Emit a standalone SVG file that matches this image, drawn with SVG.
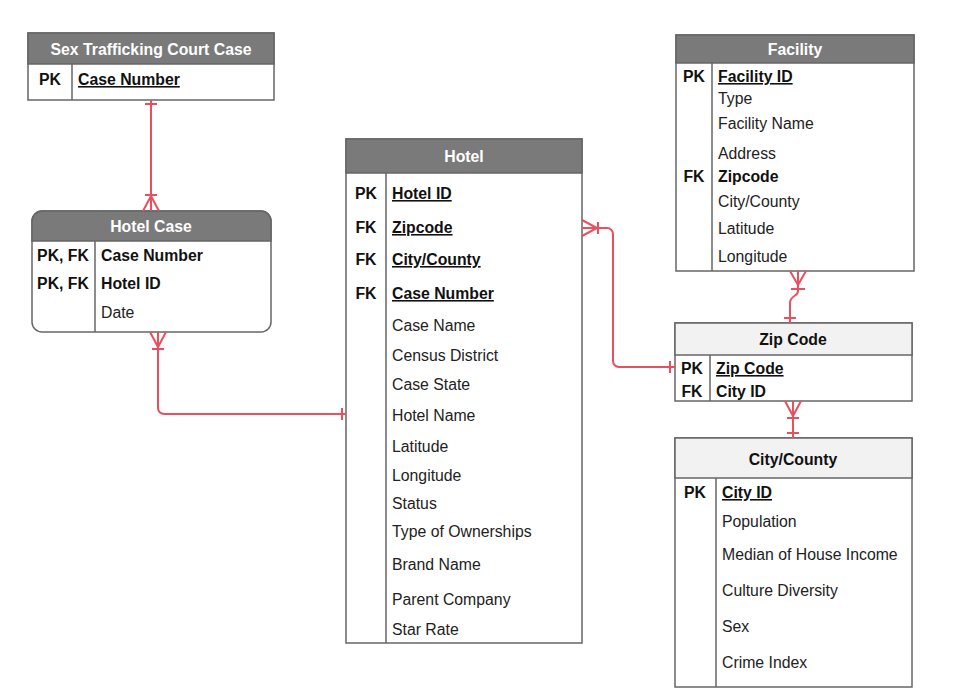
<svg xmlns="http://www.w3.org/2000/svg" width="980" height="692" viewBox="0 0 980 692">
<style>
.box{fill:#ffffff;stroke:#666666;stroke-width:1.5}
.hd{fill:#7a7a7a;stroke:#666666;stroke-width:1.5}
.hl{fill:#f2f2f2;stroke:#666666;stroke-width:1.5}
.dv{stroke:#666666;stroke-width:1.5;fill:none}
text{font-family:"Liberation Sans",Arial,sans-serif;font-size:15.8px;fill:#222222}
.ht{font-weight:bold;fill:#ffffff;text-anchor:middle}
.htd{font-weight:bold;fill:#111111;text-anchor:middle}
.k{font-weight:bold;fill:#111111;text-anchor:middle}
.b{font-weight:bold;fill:#111111}
.u{font-weight:bold;fill:#111111;text-decoration:underline}
.c{stroke:#e8505f;stroke-width:2;fill:none}
</style>
<rect width="980" height="692" fill="#ffffff"/>

<g id="court-case">
<rect class="box" x="28" y="33" width="246" height="67"/>
<rect class="hd" x="28" y="33" width="246" height="31"/>
<line class="dv" x1="72" y1="64" x2="72" y2="100"/>
<text class="ht" x="151" y="55">Sex Trafficking Court Case</text>
<text class="k" x="50" y="85">PK</text>
<text class="u" x="78" y="85">Case Number</text>
</g>

<g id="hotel-case">
<rect class="box" x="32" y="211" width="239" height="121" rx="10"/>
<path class="hd" d="M32,241 V221 a10,10 0 0 1 10,-10 H261 a10,10 0 0 1 10,10 V241 Z"/>
<line class="dv" x1="95" y1="241" x2="95" y2="332"/>
<text class="ht" x="151" y="232">Hotel Case</text>
<text class="k" x="63" y="261">PK, FK</text>
<text class="b" x="101" y="261">Case Number</text>
<text class="k" x="63" y="289">PK, FK</text>
<text class="b" x="101" y="289">Hotel ID</text>
<text x="101" y="318">Date</text>
</g>

<g id="hotel">
<rect class="box" x="346" y="139" width="236" height="504"/>
<rect class="hd" x="346" y="139" width="236" height="34"/>
<line class="dv" x1="386" y1="173" x2="386" y2="643"/>
<text class="ht" x="464" y="162">Hotel</text>
<text class="k" x="366" y="199">PK</text>
<text class="u" x="392" y="199">Hotel ID</text>
<text class="k" x="366" y="233">FK</text>
<text class="u" x="392" y="233">Zipcode</text>
<text class="k" x="366" y="265">FK</text>
<text class="u" x="392" y="265">City/County</text>
<text class="k" x="366" y="299">FK</text>
<text class="u" x="392" y="299">Case Number</text>
<text x="392" y="331">Case Name</text>
<text x="392" y="361">Census District</text>
<text x="392" y="390">Case State</text>
<text x="392" y="421">Hotel Name</text>
<text x="392" y="452">Latitude</text>
<text x="392" y="481">Longitude</text>
<text x="392" y="509">Status</text>
<text x="392" y="537">Type of Ownerships</text>
<text x="392" y="570">Brand Name</text>
<text x="392" y="605">Parent Company</text>
<text x="392" y="635">Star Rate</text>
</g>

<g id="facility">
<rect class="box" x="676" y="35" width="238" height="236"/>
<rect class="hd" x="676" y="35" width="238" height="28"/>
<line class="dv" x1="712" y1="63" x2="712" y2="271"/>
<text class="ht" x="795" y="55">Facility</text>
<text class="k" x="694" y="82">PK</text>
<text class="u" x="718" y="82">Facility ID</text>
<text x="718" y="104">Type</text>
<text x="718" y="129">Facility Name</text>
<text x="718" y="159">Address</text>
<text class="k" x="694" y="182">FK</text>
<text class="b" x="718" y="182">Zipcode</text>
<text x="718" y="207">City/County</text>
<text x="718" y="234">Latitude</text>
<text x="718" y="262">Longitude</text>
</g>

<g id="zip-code">
<rect class="box" x="675" y="323" width="237" height="78"/>
<rect class="hl" x="675" y="323" width="237" height="32"/>
<line class="dv" x1="710" y1="355" x2="710" y2="401"/>
<text class="htd" x="793" y="345">Zip Code</text>
<text class="k" x="692" y="374">PK</text>
<text class="u" x="716" y="374">Zip Code</text>
<text class="k" x="692" y="397">FK</text>
<text class="b" x="716" y="397">City ID</text>
</g>

<g id="city-county">
<rect class="box" x="675" y="438" width="237" height="249"/>
<rect class="hl" x="675" y="438" width="237" height="40"/>
<line class="dv" x1="716" y1="478" x2="716" y2="687"/>
<text class="htd" x="793" y="465">City/County</text>
<text class="k" x="695" y="498">PK</text>
<text class="u" x="722" y="498">City ID</text>
<text x="722" y="527">Population</text>
<text x="722" y="560">Median of House Income</text>
<text x="722" y="596">Culture Diversity</text>
<text x="722" y="632">Sex</text>
<text x="722" y="668">Crime Index</text>
</g>

<g id="connectors">
<path class="c" d="M151,100 V211"/>
<path class="c" d="M145,104 H157"/>
<path class="c" d="M145,195 H157 M151,196 L143,211 M151,196 L159,211"/>
<path class="c" d="M158,332 V408 a6,6 0 0 0 6,6 H346"/>
<path class="c" d="M150,332 L158,347 L166,332 M152,349 H164"/>
<path class="c" d="M342,408 V420"/>
<path class="c" d="M582,228 H607 a6,6 0 0 1 6,6 V361 a6,6 0 0 0 6,6 H675"/>
<path class="c" d="M582,220 L597,228 L582,236 M598,222 V234"/>
<path class="c" d="M670,361 V373"/>
<path class="c" d="M798,271 V291 C798,297 790,295 790,303 V323"/>
<path class="c" d="M790,271 L798,285 L806,271 M791,289 H805"/>
<path class="c" d="M784,318 H796"/>
<path class="c" d="M793,401 V438"/>
<path class="c" d="M785,401 L793,416 L801,401 M787,418 H799"/>
<path class="c" d="M787,433 H799"/>
</g>
</svg>
